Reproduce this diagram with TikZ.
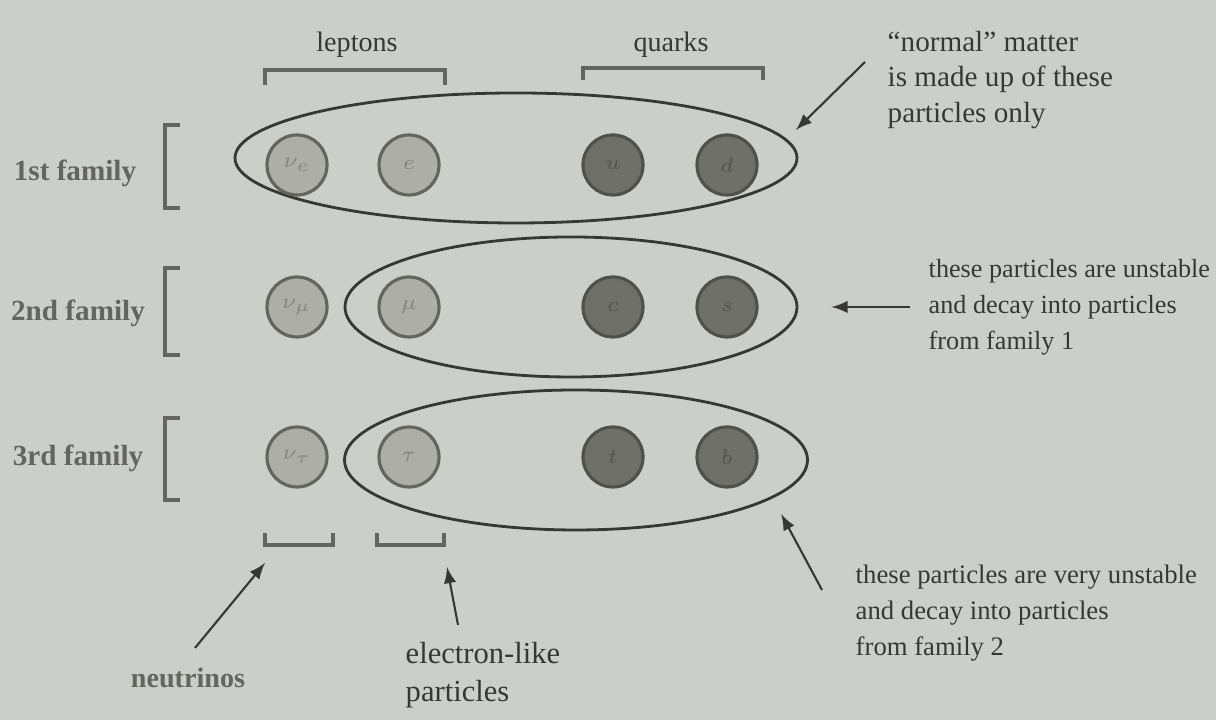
\documentclass[tikz,border=0pt]{standalone}
\usepackage{amsmath}
\usepackage{fontspec}
\setmainfont{Liberation Serif}
\usepackage{tikz}
\usetikzlibrary{shapes,arrows,positioning,calc}
\usepackage{xcolor}

\definecolor{paper}{RGB}{204,207,201}
\definecolor{ink}{RGB}{55,55,52}
\definecolor{softink}{RGB}{100,101,96}
\definecolor{lightball}{RGB}{172,174,167}
\definecolor{darkball}{RGB}{112,112,107}
\definecolor{lighttxt}{RGB}{132,133,127}
\definecolor{darktxt}{RGB}{84,84,80}

\tikzset{
  lepton/.style={circle, draw=softink, line width=0.9pt, fill=lightball, minimum size=0.6cm, inner sep=0pt, text=lighttxt, font=\fontsize{6}{7}\selectfont},
  quark/.style={circle, draw=softink!80!black, line width=0.9pt, fill=darkball, minimum size=0.6cm, inner sep=0pt, text=darktxt, font=\fontsize{6}{7}\selectfont},
  family/.style={ellipse, draw=ink, line width=0.8pt, inner sep=0pt},
  note/.style={align=left, text=ink, inner sep=0pt, font=\fontsize{8}{10.2}\selectfont},
  tag/.style={text=softink, inner sep=0pt, font=\bfseries\fontsize{8.3}{10}\selectfont},
  brack/.style={draw=softink, line width=0.9pt},
  pointer/.style={-latex, draw=ink, line width=0.6pt}
}

\begin{document}
\begin{tikzpicture}
    % Paper
    \fill[paper] (0,0) rectangle (12.16,7.2);
    \useasboundingbox (0,0) rectangle (12.16,7.2);

    % Family ellipses
    \node[family, minimum width=5.62cm, minimum height=1.30cm] (fam1) at (5.16,5.62) {};
    \node[family, minimum width=4.52cm, minimum height=1.40cm] (fam2) at (5.71,4.13) {};
    \node[family, minimum width=4.63cm, minimum height=1.40cm] (fam3) at (5.76,2.60) {};

    % 1st family particles
    \node[lepton] (nue) at (2.97,5.55) {$\nu_e$};
    \node[lepton] (e)   at (4.09,5.55) {$e$};
    \node[quark]  (u)   at (6.13,5.55) {$u$};
    \node[quark]  (d)   at (7.27,5.55) {$d$};

    % 2nd family particles
    \node[lepton] (num) at (2.97,4.13) {$\nu_\mu$};
    \node[lepton] (mu)  at (4.09,4.13) {$\mu$};
    \node[quark]  (c)   at (6.13,4.13) {$c$};
    \node[quark]  (s)   at (7.27,4.13) {$s$};

    % 3rd family particles
    \node[lepton] (nut) at (2.97,2.63) {$\nu_\tau$};
    \node[lepton] (tau) at (4.09,2.63) {$\tau$};
    \node[quark]  (t)   at (6.13,2.63) {$t$};
    \node[quark]  (b)   at (7.27,2.63) {$b$};

    % Top brackets
    \draw[brack] (2.65,6.35) -- (2.65,6.50) -- (4.45,6.50) -- (4.45,6.35);
    \draw[brack] (5.83,6.40) -- (5.83,6.52) -- (7.63,6.52) -- (7.63,6.40);
    \node[note] (leptons) at (3.57,6.75) {leptons};
    \node[note] (quarks)  at (6.71,6.75) {quarks};

    % Family brackets
    \draw[brack] (1.80,5.95) -- (1.65,5.95) -- (1.65,5.12) -- (1.80,5.12);
    \draw[brack] (1.80,4.52) -- (1.65,4.52) -- (1.65,3.65) -- (1.80,3.65);
    \draw[brack] (1.80,3.02) -- (1.65,3.02) -- (1.65,2.20) -- (1.80,2.20);
    \node[tag] (first)  at (0.75,5.47) {1st family};
    \node[tag] (second) at (0.78,4.07) {2nd family};
    \node[tag] (third)  at (0.78,2.62) {3rd family};

    % Bottom brackets
    \draw[brack] (2.65,1.87) -- (2.65,1.75) -- (3.33,1.75) -- (3.33,1.87);
    \draw[brack] (3.77,1.87) -- (3.77,1.75) -- (4.44,1.75) -- (4.44,1.87);

    % Bottom labels
    \node[tag, font=\bfseries\fontsize{8}{10}\selectfont] (nulab) at (1.88,0.42) {neutrinos};
    \node[note, anchor=west, font=\fontsize{8.7}{11}\selectfont] (ellab) at (4.05,0.45) {electron-like\\particles};
    \coordinate (nustart) at (1.95,0.72);
    \coordinate (nutip)   at (2.65,1.57);
    \coordinate (elstart) at (4.58,0.95);
    \coordinate (eltip)   at (4.47,1.53);
    \draw[pointer] (nustart) -- (nutip);
    \draw[pointer] (elstart) -- (eltip);

    % Notes on the right
    \node[note, anchor=west, font=\fontsize{8.3}{10.2}\selectfont] (normal) at (8.87,6.40) {``normal'' matter\\is made up of these\\particles only};
    \node[note, anchor=west, font=\fontsize{7.45}{10.2}\selectfont] (unstable) at (9.28,4.13) {these particles are unstable\\and decay into particles\\from family 1};
    \node[note, anchor=west, font=\fontsize{7.6}{10.2}\selectfont] (veryunstable) at (8.55,1.07) {these particles are very unstable\\and decay into particles\\from family 2};

    \coordinate (normalstart) at (8.65,6.58);
    \coordinate (unstart)     at (9.10,4.13);
    \coordinate (vunstart)    at (8.22,1.30);
    \draw[pointer, shorten >=1.3mm] (normalstart) -- (fam1.4);
    \draw[pointer, shorten >=3.3mm] (unstart) -- (fam2.east);
    \draw[pointer, shorten >=1.8mm] (vunstart) -- (fam3.-11);
\end{tikzpicture}
\end{document}
